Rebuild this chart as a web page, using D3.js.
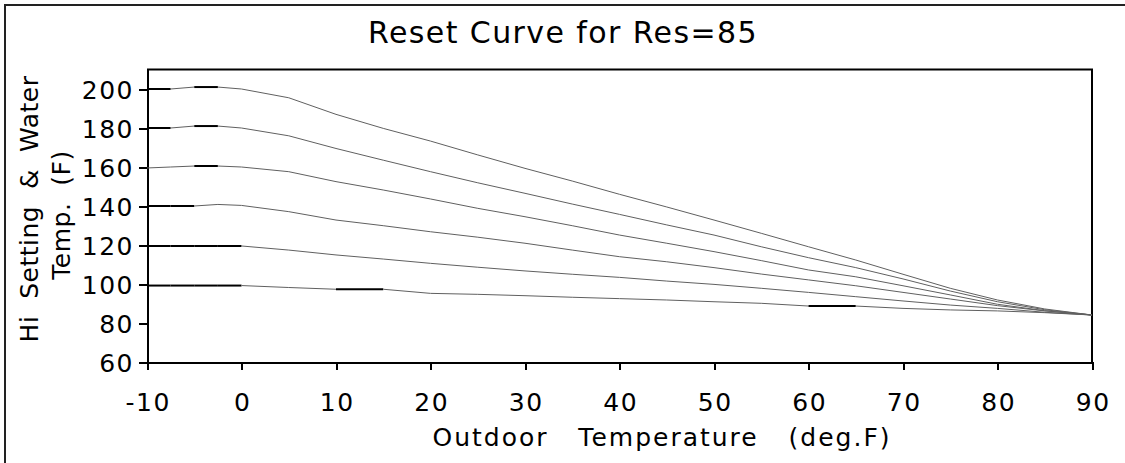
<!DOCTYPE html>
<html>
<head>
<meta charset="utf-8">
<title>Reset Curve</title>
<script src="https://cdn.jsdelivr.net/npm/d3@7"></script>
<style>
  html, body { margin: 0; background: #fff; }
  svg text { font-family: "DejaVu Sans", sans-serif; fill: #000; white-space: pre; }
  .axis path, .axis line { stroke: #000; stroke-width: 2; shape-rendering: crispEdges; }
  .axis text { font-size: 25px; letter-spacing: 1.5px; }
  .seg { fill: none; stroke: #606060; stroke-width: 1; }
  .seg.flat { stroke: #000; stroke-width: 2; }
</style>
</head>
<body>
<svg width="1125" height="463"></svg>
<script>
// outdoor temperature (deg F)
var outdoor = [-10, -7.5, -5, -2.5, 0, 5, 10, 15, 20, 25, 30, 35, 40, 45, 50, 55, 60, 65, 70, 75, 80, 85, 90];

// water temperature for each Hi setting
var hi200 = [200, 200, 201, 201, 200, 195.5, 187, 179.8, 173.3, 166.2, 159.3, 152.8, 146, 139.5, 132.8, 126, 119.1, 112.3, 105, 97.8, 91.8, 87.2, 84.1];
var hi180 = [180, 180, 181, 181, 180, 176, 169.5, 163.5, 157.6, 151.9, 146.5, 141, 135.7, 130.3, 125.1, 119.1, 113.5, 108.4, 102.6, 96.4, 90.9, 86.8, 84.1];
var hi160 = [159.5, 160, 160.5, 160.5, 160, 157.6, 152.5, 148.2, 143.6, 138.8, 134.5, 129.9, 125.1, 120.9, 116.6, 112, 107.2, 103.7, 99.1, 94.4, 89.6, 86.3, 84.1];
var hi140 = [140, 140, 140, 140.8, 140.3, 137.1, 132.8, 129.9, 126.8, 124, 120.9, 117.4, 114, 111.4, 108.4, 105.1, 102.1, 99.1, 95.7, 92.3, 88.9, 86.2, 84.1];
var hi120 = [119.5, 119.5, 119.5, 119.5, 119.5, 117.4, 114.9, 112.8, 110.6, 108.6, 106.7, 105, 103.4, 101.5, 99.8, 97.8, 95.7, 93.5, 91.3, 89.2, 87.5, 85.5, 84.1];
var hi100 = [99.2, 99.2, 99.2, 99.2, 99.2, 98.2, 97.3, 97.3, 95.2, 94.7, 94, 93.2, 92.5, 91.8, 90.9, 90.1, 88.7, 88.7, 87.5, 86.7, 86.2, 85.3, 84.1];

var xTicks = [-10, 0, 10, 20, 30, 40, 50, 60, 70, 80, 90];
var yTicks = [60, 80, 100, 120, 140, 160, 180, 200];

var svg = d3.select("svg");

// outer frame (right and bottom sides fall outside the picture)
svg.append("rect")
    .attr("x", 5).attr("y", 5)
    .attr("width", 1140).attr("height", 480)
    .attr("fill", "none").attr("stroke", "#222").attr("stroke-width", 2);

var x = d3.scaleLinear().domain([-10, 90]).range([147, 1092]),
    y = d3.scaleLinear().domain([60, 210]).range([362, 69.5]);

svg.append("text")
    .attr("x", 563).attr("y", 43)
    .attr("text-anchor", "middle")
    .style("font-size", "30px")
    .style("letter-spacing", "1.4px")
    .text("Reset Curve for Res=85");

// frame of the plot area
svg.append("path")
    .attr("class", "axis")
    .attr("d", "M" + x(-10) + "," + y(210) + "H" + x(90) + "V" + y(60))
    .attr("fill", "none").attr("stroke", "#000").attr("stroke-width", 2);

var gx = svg.append("g")
    .attr("class", "axis")
    .attr("transform", "translate(0," + y(60) + ")")
    .call(d3.axisBottom(x).tickValues(xTicks).tickSize(8).tickSizeOuter(0)
        .tickFormat(function(d) { return String(d); }));
gx.selectAll("text").attr("dy", null).attr("y", 49).attr("dx", "0.75px");

var gy = svg.append("g")
    .attr("class", "axis")
    .attr("transform", "translate(" + x(-10) + ",0)")
    .call(d3.axisLeft(y).tickValues(yTicks).tickSize(8).tickSizeOuter(0)
        .tickFormat(function(d) { return String(d); }));
gy.selectAll("text").attr("x", -13).attr("dy", "0.36em");

// curves, split into segments so the flat pieces can be drawn heavier
var series = [hi200, hi180, hi160, hi140, hi120, hi100];
var segs = [];
series.forEach(function(vals) {
  for (var i = 0; i < outdoor.length - 1; i++) {
    segs.push({x0: outdoor[i], y0: vals[i], x1: outdoor[i + 1], y1: vals[i + 1]});
  }
});

svg.append("g").selectAll("line")
  .data(segs)
  .enter().append("line")
    .attr("class", function(d) { return d.y0 === d.y1 ? "seg flat" : "seg"; })
    .attr("x1", function(d) { return x(d.x0); })
    .attr("y1", function(d) { return y(d.y0); })
    .attr("x2", function(d) { return x(d.x1); })
    .attr("y2", function(d) { return y(d.y1); });

// axis titles
svg.append("text")
    .attr("x", 662).attr("y", 446)
    .attr("text-anchor", "middle")
    .style("font-size", "25px")
    .style("letter-spacing", "2px")
    .text("Outdoor   Temperature   (deg.F)");

svg.append("text")
    .attr("transform", "translate(38,209) rotate(-90)")
    .attr("text-anchor", "middle")
    .style("font-size", "25px")
    .style("letter-spacing", "0.5px")
    .text("Hi  Setting  &  Water");

svg.append("text")
    .attr("transform", "translate(70,215) rotate(-90)")
    .attr("text-anchor", "middle")
    .style("font-size", "25px")
    .style("letter-spacing", "0.5px")
    .text("Temp.  (F)");
</script>
</body>
</html>
